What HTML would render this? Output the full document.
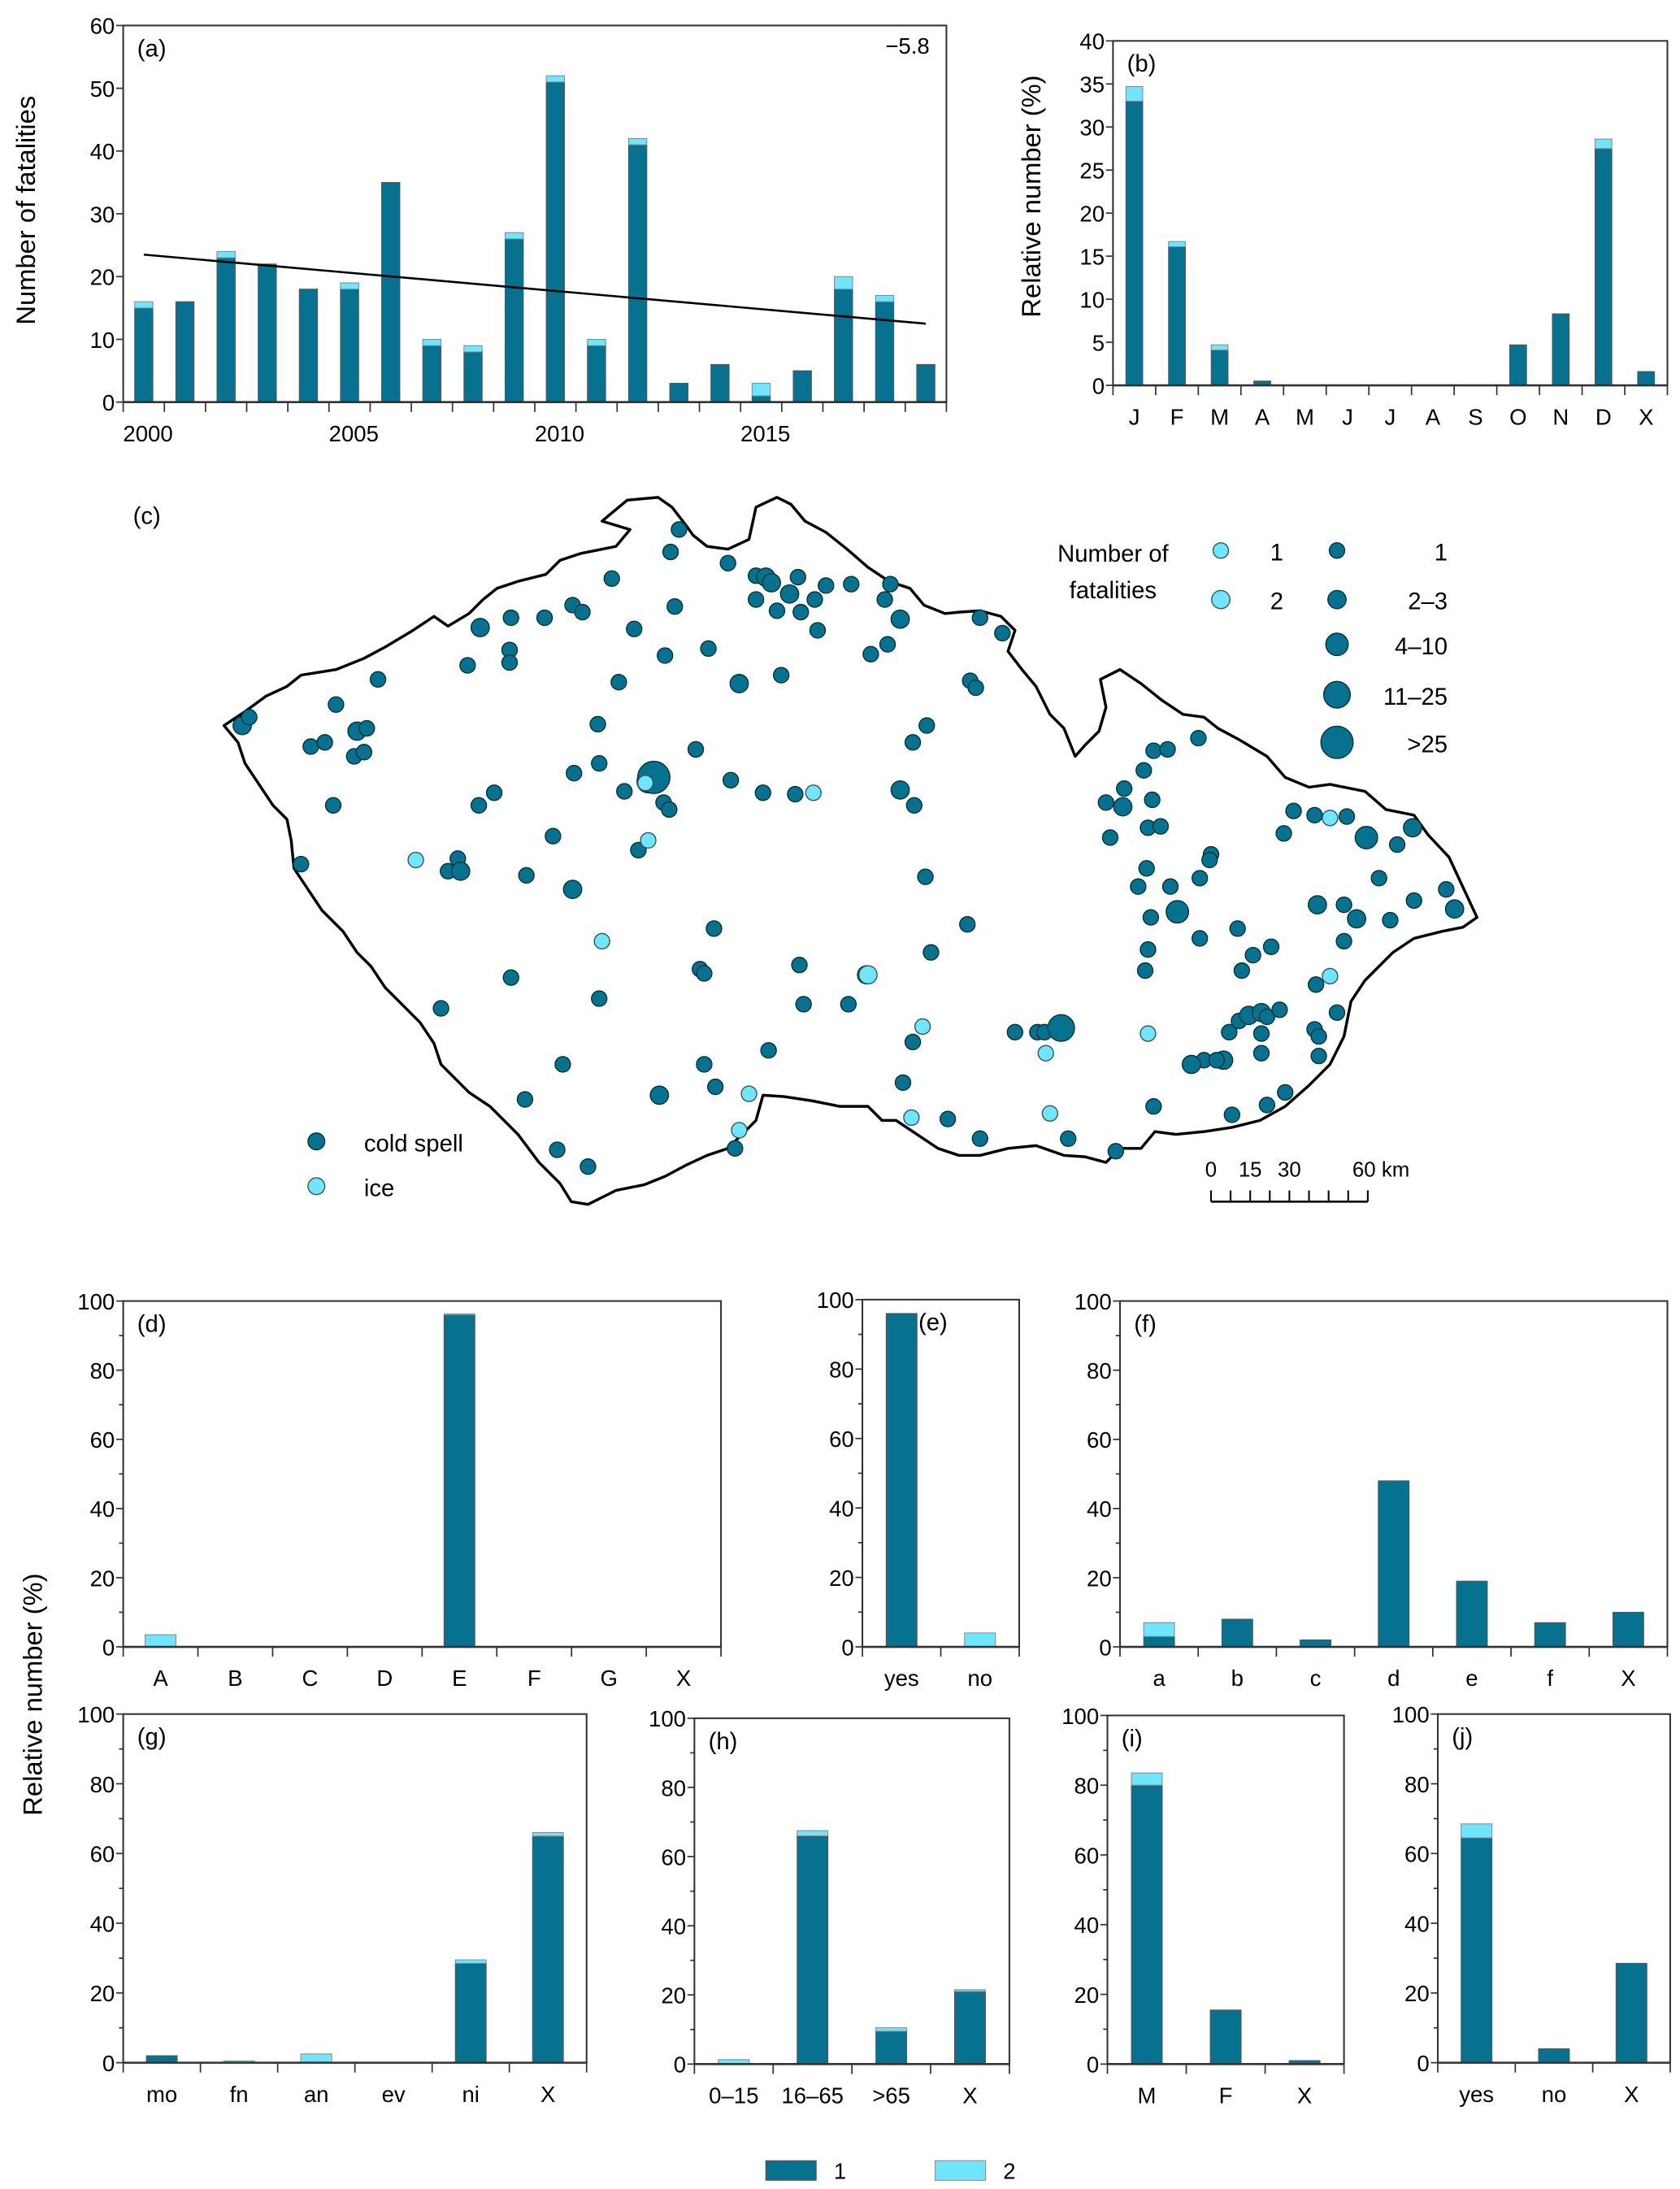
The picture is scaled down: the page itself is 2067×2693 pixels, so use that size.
<!DOCTYPE html>
<html><head><meta charset="utf-8"><title>Fatalities figure</title>
<style>
html,body{margin:0;padding:0;background:#fff;}
svg{display:block;font-family:"Liberation Sans",sans-serif;}
</style></head>
<body>
<svg id="fig" xmlns="http://www.w3.org/2000/svg" width="2067" height="2693" viewBox="0 0 1200 1563">
<rect width="1200" height="1563" fill="#fff"/>
</svg>
<script>
// ---------- data ----------
const yearsA = [2000,2001,2002,2003,2004,2005,2006,2007,2008,2009,2010,2011,2012,2013,2014,2015,2016,2017,2018,2019];
const coldA = [15,16,23,22,18,18,35,9,8,26,51,9,41,3,6,1,5,18,16,6];
const iceA = [1,0,1,0,0,1,0,1,1,1,1,1,1,0,0,2,0,2,1,0];
const yearLabelsA = ["2000","2005","2010","2015"];
const trendA = [23.5,12.5];
const monthsB = ["J","F","M","A","M","J","J","A","S","O","N","D","X"];
const coldB = [33,16.1,4.1,0.5,0,0,0,0,0,4.7,8.3,27.5,1.6];
const iceB = [1.7,0.6,0.6,0,0,0,0,0,0,0,0,1.1,0];
const catsD = ["A","B","C","D","E","F","G","X"];
const coldD = [0,0,0,0,96,0,0,0];
const iceD = [3.5,0,0,0,0.3,0,0,0];
const catsE = ["yes","no"];
const coldE = [96,0];
const iceE = [0,4];
const catsF = ["a","b","c","d","e","f","X"];
const coldF = [3,8,2,48,19,7,10];
const iceF = [4,0,0,0,0,0,0];
const catsG = ["mo","fn","an","ev","ni","X"];
const coldG = [2,0,0,0,28.5,65];
const iceG = [0,0.5,2.5,0,1,1];
const catsH = ["0\u201315","16\u201365",">65","X"];
const coldH = [0,66,9.5,21];
const iceH = [1.3,1.5,1,0.5];
const catsI = ["M","F","X"];
const coldI = [80,15.5,1];
const iceI = [3.5,0,0];
const catsJ = ["yes","no","X"];
const coldJ = [64.5,4,28.5];
const iceJ = [4,0,0];
// map points: [x, y, sizeClass]
const coldPts = [[173,518,2],[178,512,1],[240,503,1],[270,485,1],[222,533,1],[232,530,1],[255,522,2],[262,520,1],[253,540,1],[260,537,1],[238,575,1],[215,617,1],[343,448,2],[365,441,1],[389,441,1],[409,432,1],[416,437,1],[437,413,1],[479,394,1],[485,378,1],[520,402,1],[364,464,1],[364,473,1],[334,475,1],[453,449,1],[482,433,1],[475,468,1],[506,463,1],[528,488,2],[558,482,1],[540,411,1],[547,412,2],[551,416,2],[570,412,1],[540,428,1],[555,436,1],[564,424,2],[572,437,1],[582,428,1],[590,418,1],[608,417,1],[636,417,1],[632,428,1],[643,442,2],[584,450,1],[622,467,1],[634,460,1],[700,441,1],[716,452,1],[693,486,1],[697,491,1],[662,518,1],[652,530,1],[442,487,1],[427,517,1],[428,545,1],[410,552,1],[353,566,1],[342,575,1],[395,597,1],[327,613,1],[320,622,1],[329,622,2],[376,625,1],[409,635,2],[446,565,1],[463,558,3],[467,555,5],[474,573,1],[478,578,1],[456,607,1],[497,535,1],[522,557,1],[545,566,1],[568,567,1],[643,564,2],[653,575,1],[661,626,1],[691,660,1],[665,680,1],[510,663,1],[500,692,1],[503,695,1],[365,698,1],[428,713,1],[315,720,1],[402,760,1],[375,785,1],[398,821,1],[420,833,1],[471,782,2],[503,760,1],[511,776,1],[525,820,1],[549,750,1],[571,689,1],[574,717,1],[606,717,1],[619,696,2],[652,744,1],[645,773,1],[677,799,1],[700,813,1],[763,813,1],[797,822,1],[725,737,1],[741,737,1],[746,737,1],[758,734,4],[824,790,1],[860,757,1],[851,760,2],[874,757,2],[869,757,1],[880,796,1],[905,789,1],[918,780,1],[901,752,1],[901,738,1],[878,737,1],[885,729,1],[892,725,2],[901,723,2],[905,726,1],[914,721,1],[939,735,1],[942,740,1],[942,754,1],[955,723,1],[940,703,1],[895,682,1],[887,693,1],[908,676,1],[884,663,1],[857,670,1],[841,651,3],[836,633,1],[857,627,1],[865,610,1],[864,614,1],[818,693,1],[820,678,1],[822,655,1],[813,633,1],[819,620,1],[820,591,1],[829,590,1],[823,571,1],[793,598,1],[790,573,1],[802,576,2],[803,563,1],[817,550,1],[824,536,1],[834,535,1],[856,527,1],[917,595,1],[924,579,1],[939,582,1],[962,583,1],[976,598,3],[1009,591,2],[998,603,1],[985,627,1],[941,646,2],[960,646,1],[969,656,2],[960,672,1],[993,657,1],[1010,643,1],[1033,635,1],[1039,649,2]];
const icePts = [[461,559,1],[463,600,1],[581,566,1],[297,614,1],[430,672,1],[620,696,2],[659,733,1],[535,781,1],[528,807,1],[651,798,1],[750,795,1],[747,752,1],[820,738,1],[950,697,1],[950,584,1]];

const DARK = "#06728f", LIGHT = "#6fe6fb";
const NS = "http://www.w3.org/2000/svg";
const svg = document.getElementById("fig");
function mk(tag, attrs, parent){
  const e = document.createElementNS(NS, tag);
  for (const k in attrs) e.setAttribute(k, attrs[k]);
  (parent||svg).appendChild(e);
  return e;
}
function txt(s, x, y, size, anchor, parent){
  const t = mk("text", {x:x, y:y, "font-size":size, "text-anchor":anchor||"middle", fill:"#000"}, parent);
  t.textContent = s;
  return t;
}

function barChart(o){
  const g = mk("g", {});
  
  
  const L=o.left,R=o.right,T=o.top,B=o.bottom;
  const yS = v => B - v/o.ymax*(B-T);
  const n = o.cats.length, cw = (R-L)/n;
  const xC = i => L + cw*(i+0.5);
  const fr = mk("rect",{x:L,y:T,width:R-L,height:B-T,fill:"none",stroke:"#333","stroke-width":1.2},g);
  
  
  for (let v=0; v<=o.ymax+1e-9; v+=o.minor){
    const y=yS(v);
    const major = Math.abs(v/o.step - Math.round(v/o.step))<1e-6;
    mk("line",{x1:L-(major?5:3),x2:L,y1:y,y2:y,stroke:"#333","stroke-width":1},g);
    if (major){
      const t = txt(String(Math.round(v)), L-6, y+6, 16, "end", g);
      
      
    }
  }
  for (let i=0;i<=n;i++){
    const x=L+cw*i;
    mk("line",{x1:x,x2:x,y1:B,y2:B+7,stroke:"#333","stroke-width":1},g);
  }
  for (let i=0;i<n;i++){
    const c=o.cold[i], ic=o.ice[i];
    if (c>0){
      const r = mk("rect",{x:xC(i)-o.bw/2,y:yS(c),width:o.bw,height:B-yS(c),fill:DARK,stroke:"#555","stroke-width":0.6},g);
      
      
    }
    if (ic>0){
      const r2 = mk("rect",{x:xC(i)-o.bw/2,y:yS(c+ic),width:o.bw,height:yS(c)-yS(c+ic),fill:LIGHT,stroke:"#888","stroke-width":0.6},g);
      
      
    }
    if (o.showLabel(i)){
      const t = txt(o.cats[i], xC(i)+(o.labelDx||0), B+28, 16, "middle", g);
      
      
    }
  }
  mk("line",{x1:L,x2:R,y1:B,y2:B,stroke:"#333","stroke-width":1.5},g);
  const pl = txt(o.panel, L+(o.panelDx||10), T+22, 17, "start", g);
  
  
  return {g, yS, xC};
}

const A = barChart({name:"chart-a-yearly",left:88,right:676,top:18,bottom:287,ymax:60,step:10,minor:10,
  cats:yearsA.map(String),cold:coldA,ice:iceA,bw:13,panel:"(a)",
  showLabel:i=>yearLabelsA.indexOf(String(yearsA[i]))>=0, labelDx:3});
const tr = mk("line",{x1:A.xC(0),x2:A.xC(yearsA.length-1),y1:A.yS(trendA[0]),y2:A.yS(trendA[1]),stroke:"#000","stroke-width":1.5},A.g);


const trt = txt("\u22125.8", 664, 38, 16, "end", A.g);


const yla = txt("Number of fatalities", 0, 0, 19, "middle");
yla.setAttribute("transform","translate(25,150) rotate(-90)");



barChart({name:"chart-b-monthly",left:795,right:1191,top:29,bottom:275,ymax:40,step:5,minor:5,
  cats:monthsB,cold:coldB,ice:iceB,bw:12,panel:"(b)",showLabel:()=>true});
const ylb = txt("Relative number (%)", 0, 0, 19, "middle");
ylb.setAttribute("transform","translate(743,140) rotate(-90)");



barChart({name:"chart-d",left:88,right:515,top:929,bottom:1176,ymax:100,step:20,minor:10,cats:catsD,cold:coldD,ice:iceD,bw:22,panel:"(d)",showLabel:()=>true});
barChart({name:"chart-e",left:616,right:728,top:928,bottom:1176,ymax:100,step:20,minor:10,cats:catsE,cold:coldE,ice:iceE,bw:22,panel:"(e)",panelDx:40,showLabel:()=>true});
barChart({name:"chart-f",left:800,right:1191,top:929,bottom:1176,ymax:100,step:20,minor:10,cats:catsF,cold:coldF,ice:iceF,bw:22,panel:"(f)",showLabel:()=>true});
barChart({name:"chart-g",left:88,right:419,top:1224,bottom:1473,ymax:100,step:20,minor:10,cats:catsG,cold:coldG,ice:iceG,bw:22,panel:"(g)",showLabel:()=>true});
barChart({name:"chart-h",left:496,right:721,top:1227,bottom:1474,ymax:100,step:20,minor:10,cats:catsH,cold:coldH,ice:iceH,bw:22,panel:"(h)",showLabel:()=>true});
barChart({name:"chart-i",left:791,right:960,top:1225,bottom:1474,ymax:100,step:20,minor:10,cats:catsI,cold:coldI,ice:iceI,bw:22,panel:"(i)",showLabel:()=>true});
barChart({name:"chart-j",left:1027,right:1193,top:1224,bottom:1473,ymax:100,step:20,minor:10,cats:catsJ,cold:coldJ,ice:iceJ,bw:22,panel:"(j)",showLabel:()=>true});
const ylr = txt("Relative number (%)", 0, 0, 19, "middle");
ylr.setAttribute("transform","translate(30,1210) rotate(-90)");



const lg = mk("g",{});


mk("rect",{x:547,y:1543,width:36,height:14,fill:DARK,stroke:"#555","stroke-width":0.6},lg);
txt("1", 600, 1556, 16, "middle", lg);
mk("rect",{x:668,y:1543,width:36,height:14,fill:LIGHT,stroke:"#888","stroke-width":0.6},lg);
txt("2", 721, 1556, 16, "middle", lg);

const mapG = mk("g",{});


const outline = [[160,518],[175,508],[190,497],[205,490],[215,482],[240,478],[260,470],[275,462],[295,450],[310,440],[320,447],[335,438],[345,428],[355,420],[370,415],[390,410],[400,400],[415,395],[440,390],[450,378],[430,372],[448,357],[470,355],[480,362],[490,375],[495,382],[505,390],[520,392],[535,385],[540,362],[555,355],[565,360],[575,372],[590,380],[605,392],[620,405],[635,415],[650,420],[660,432],[675,438],[685,437],[700,436],[715,440],[725,450],[720,465],[730,478],[740,490],[750,510],[760,520],[768,540],[775,532],[785,522],[790,505],[786,485],[800,478],[815,488],[830,500],[845,510],[860,512],[870,520],[885,528],[905,540],[918,555],[935,562],[950,560],[975,565],[990,578],[1010,582],[1020,596],[1035,612],[1048,640],[1055,655],[1045,662],[1030,665],[1010,670],[995,680],[985,690],[975,700],[965,715],[960,740],[950,760],[935,775],[918,790],[900,800],[880,805],[860,808],[840,810],[825,808],[815,820],[800,820],[790,830],[775,826],[760,825],[740,818],[720,820],[700,825],[685,825],[670,820],[655,810],[640,800],[630,800],[620,790],[600,790],[580,786],[560,783],[545,782],[540,800],[530,810],[520,820],[505,825],[490,832],[475,840],[460,846],[440,850],[420,860],[408,858],[400,845],[385,830],[370,810],[350,790],[335,780],[325,770],[315,760],[310,745],[300,730],[290,720],[275,705],[265,690],[255,680],[245,665],[230,650],[220,635],[210,620],[208,600],[205,585],[195,575],[185,560],[175,545],[170,530]];
const op = mk("polygon",{points:outline.map(p=>p.join(",")).join(" "),fill:"none",stroke:"#000","stroke-width":2,"stroke-linejoin":"round"},mapG);


const coldR = [0,5.5,6.5,8,9.5,11.5];
const iceR = [0,5.5,6.5];
coldPts.forEach(p=>{
  const c = mk("circle",{cx:p[0],cy:p[1],r:coldR[p[2]],fill:DARK,stroke:"#033","stroke-width":0.8},mapG);
  
  
});
icePts.forEach(p=>{
  const c = mk("circle",{cx:p[0],cy:p[1],r:iceR[p[2]],fill:LIGHT,stroke:"#355","stroke-width":0.8},mapG);
  
  
});
txt("(c)", 95, 374, 17, "start", mapG);
const ml = mk("g",{});


txt("Number of", 795, 401, 17, "middle", ml);
txt("fatalities", 795, 427, 17, "middle", ml);
mk("circle",{cx:872,cy:393,r:5.5,fill:LIGHT,stroke:"#355","stroke-width":0.8},ml);
mk("circle",{cx:872,cy:428,r:6.5,fill:LIGHT,stroke:"#355","stroke-width":0.8},ml);
txt("1", 912, 400, 17, "middle", ml);
txt("2", 912, 435, 17, "middle", ml);
const legY = [393,428,460,496,530];
const legLab = ["1","2\u20133","4\u201310","11\u201325",">25"];
legY.forEach((y,i)=>{
  mk("circle",{cx:955,cy:y,r:coldR[i+1],fill:DARK,stroke:"#033","stroke-width":0.8},ml);
  txt(legLab[i], 1034, y+7, 17, "end", ml);
});
mk("circle",{cx:226,cy:815,r:6,fill:DARK,stroke:"#033","stroke-width":0.8},ml);
txt("cold spell", 260, 822, 17, "start", ml);
mk("circle",{cx:226,cy:847,r:6,fill:LIGHT,stroke:"#355","stroke-width":0.8},ml);
txt("ice", 260, 854, 17, "start", ml);
const sb = mk("g",{});


txt("0", 865, 840, 15, "middle", sb);
txt("15", 893, 840, 15, "middle", sb);
txt("30", 921, 840, 15, "middle", sb);
txt("60 km", 966, 840, 15, "start", sb);
mk("line",{x1:865,x2:977,y1:858,y2:858,stroke:"#000","stroke-width":1.5},sb);
for (let i=0;i<=8;i++){
  const x = 865 + i*14;
  mk("line",{x1:x,x2:x,y1:858,y2:850,stroke:"#000","stroke-width":1.2},sb);
}
</script>
</body></html>
